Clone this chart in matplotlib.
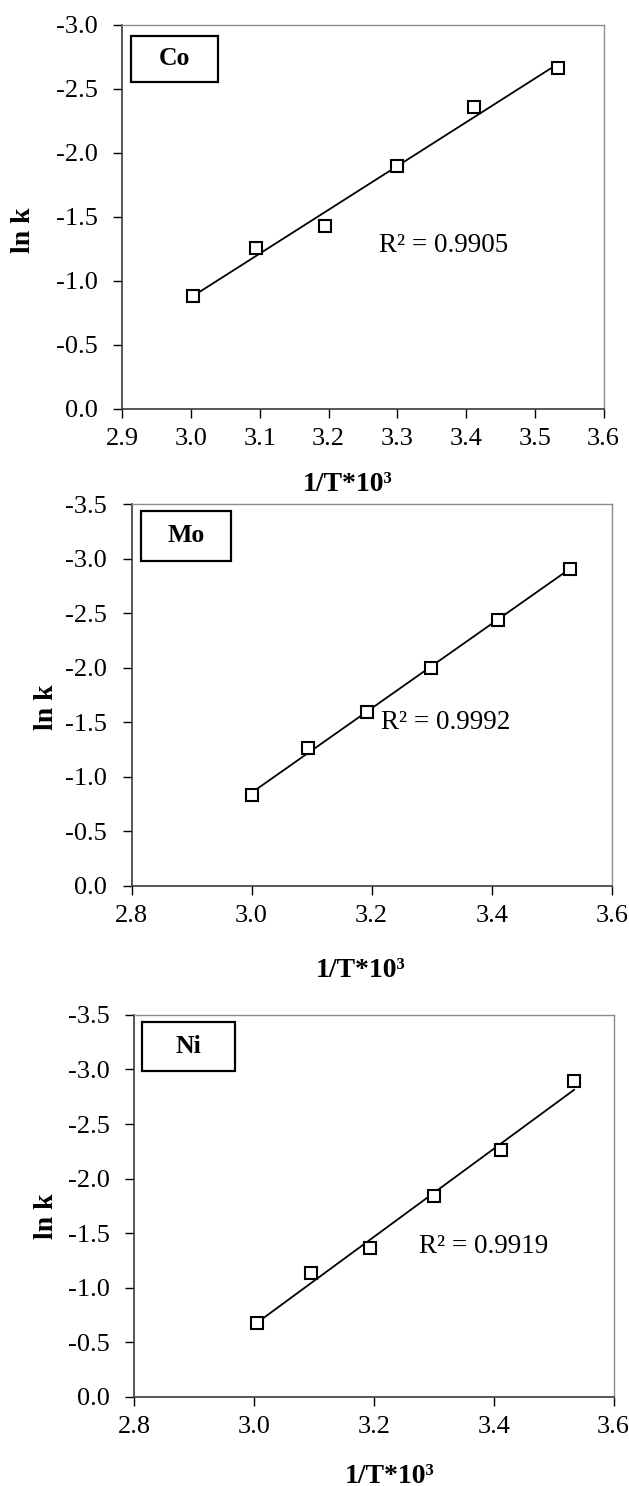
import numpy as np
import matplotlib
matplotlib.use("Agg")
import matplotlib.pyplot as plt

plt.rcParams['font.family'] = ['Liberation Serif', 'DejaVu Serif']

# 1/T*10^3 values and ln k
x_co = [3.003, 3.095, 3.195, 3.300, 3.412, 3.533]
y_co = [-0.88, -1.26, -1.43, -1.90, -2.36, -2.66]

x_mo = [3.001, 3.094, 3.192, 3.299, 3.411, 3.530]
y_mo = [-0.83, -1.26, -1.59, -2.00, -2.44, -2.91]

x_ni = [3.004, 3.095, 3.194, 3.300, 3.412, 3.534]
y_ni = [-0.68, -1.13, -1.36, -1.84, -2.26, -2.89]

labels = ['Co', 'Mo', 'Ni']
r2_text = ['R² = 0.9905', 'R² = 0.9992', 'R² = 0.9919']
r2_pos = [(3.273, -1.28), (3.216, -1.50), (3.276, -1.38)]
xlims = [(2.9, 3.6), (2.8, 3.6), (2.8, 3.6)]
xticks = [np.arange(2.9, 3.61, 0.1), np.arange(2.8, 3.61, 0.2), np.arange(2.8, 3.61, 0.2)]
ylims = [(0, -3.0), (0, -3.5), (0, -3.5)]
yticks = [np.arange(0, -3.01, -0.5), np.arange(0, -3.51, -0.5), np.arange(0, -3.51, -0.5)]

# axes rectangles in figure fraction
rects = [
    [0.1943, 0.7248, 0.7653, 0.2584],
    [0.2091, 0.4040, 0.7634, 0.2567],
    [0.2135, 0.0601, 0.7620, 0.2569],
]
xlabel_xy = [(0.3756, -0.164), (0.3842, -0.190), (0.4396, -0.176)]
ylabel_xy = [(-0.206, 0.466), (-0.178, 0.469), (-0.184, 0.472)]
boxes = [(0.019, 0.852, 0.181, 0.119), (0.020, 0.852, 0.188, 0.131), (0.016, 0.854, 0.194, 0.128)]

fig = plt.figure(figsize=(6.29, 14.86), dpi=100)

data = [(x_co, y_co), (x_mo, y_mo), (x_ni, y_ni)]
for i, (xs, ys) in enumerate(data):
    ax = fig.add_axes(rects[i])
    xs = np.array(xs)
    ys = np.array(ys)
    m, b = np.polyfit(xs, ys, 1)
    xf = np.array([xs.min(), xs.max()])
    ax.plot(xf, m * xf + b, color='black', lw=1.3, zorder=2)
    ax.plot(xs, ys, 's', ms=9, mfc='white', mec='black', mew=1.5, zorder=3)

    ax.set_xlim(*xlims[i])
    ax.set_ylim(*ylims[i])
    ax.set_xticks(xticks[i])
    ax.set_xticklabels(['%.1f' % v for v in xticks[i]])
    ax.set_yticks(yticks[i])
    ax.set_yticklabels(['%.1f' % v if abs(v) > 1e-9 else '0.0' for v in yticks[i]])
    ax.tick_params(direction='out', length=6.7, width=1, labelsize=19)
    ax.tick_params(axis='x', pad=7)
    ax.tick_params(axis='y', pad=11)

    for s in ['top', 'right']:
        ax.spines[s].set_color('#8c8c8c')
        ax.spines[s].set_linewidth(1.0)
    for s in ['left', 'bottom']:
        ax.spines[s].set_color('#3a3a3a')
        ax.spines[s].set_linewidth(1.2)

    ax.set_xlabel('1/T*10³', fontsize=20, fontweight='bold')
    ax.xaxis.label.set_ha('left')
    ax.xaxis.set_label_coords(*xlabel_xy[i])
    ax.set_ylabel('ln k', fontsize=20, fontweight='bold')
    ax.yaxis.label.set_va('center')
    ax.yaxis.set_label_coords(*ylabel_xy[i])

    bx, by, bw, bh = boxes[i]
    rect = plt.Rectangle((bx, by), bw, bh, transform=ax.transAxes, fill=False,
                         edgecolor='black', lw=1.6, zorder=4)
    ax.add_patch(rect)
    ax.text(bx + bw / 2, by + bh / 2, labels[i], transform=ax.transAxes,
            ha='center', va='center', fontsize=18.5, fontweight='bold')

    ax.text(r2_pos[i][0], r2_pos[i][1], r2_text[i], ha='left', va='center', fontsize=19.5)

fig.savefig('out.png', dpi=100)
